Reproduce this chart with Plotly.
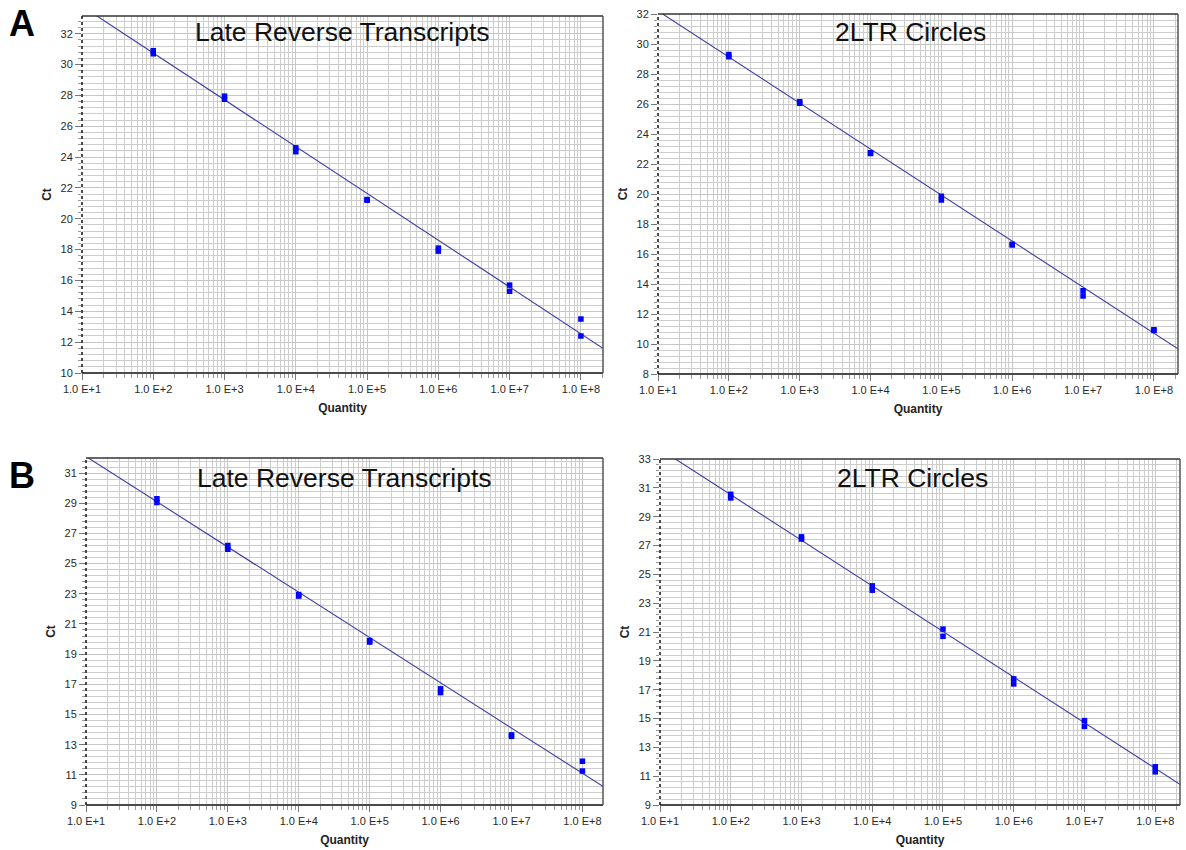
import plotly.graph_objects as go

# ---------------- data ----------------
quantity = [1e2, 1e3, 1e4, 1e5, 1e6, 1e7, 1e8]

a_lrt_ct_rep1 = [30.9, 27.95, 24.6, 21.25, 18.1, 15.7, 13.5]
a_lrt_ct_rep2 = [30.7, 27.75, 24.35, 21.2, 17.9, 15.3, 12.4]

a_2ltr_ct_rep1 = [29.3, 26.15, 22.75, 19.85, 16.65, 13.55, 10.95]
a_2ltr_ct_rep2 = [29.15, 26.05, 22.7, 19.6, 16.6, 13.2, 10.9]

b_lrt_ct_rep1 = [29.3, 26.2, 22.95, 19.9, 16.7, 13.65, 11.9]
b_lrt_ct_rep2 = [29.05, 25.95, 22.85, 19.8, 16.45, 13.55, 11.25]

b_2ltr_ct_rep1 = [30.55, 27.6, 24.2, 21.2, 17.75, 14.85, 11.65]
b_2ltr_ct_rep2 = [30.3, 27.45, 23.9, 20.7, 17.4, 14.45, 11.3]

# standard-curve fits: Ct = intercept + slope * log10(quantity)
fit_intercepts = [36.82, 35.27, 35.10, 36.85]
fit_slopes = [-3.035, -3.069, -3.000, -3.164]

panel_titles = ["Late Reverse Transcripts", "2LTR Circles",
                "Late Reverse Transcripts", "2LTR Circles"]
panel_letters = ["A", "B"]
decade_exponents = [1, 2, 3, 4, 5, 6, 7, 8]
decade_labels = ["1.0 E+%d" % e for e in decade_exponents]

# ---------------- layout geometry ----------------
W, H = 1186, 850
panels = [
    dict(rep1=a_lrt_ct_rep1, rep2=a_lrt_ct_rep2, box=(82, 603, 16, 373),
         xr=(1, 8.31), yr=(10, 33.15), y0=10),
    dict(rep1=a_2ltr_ct_rep1, rep2=a_2ltr_ct_rep2, box=(658, 1178, 14, 374),
         xr=(1, 8.34), yr=(8, 32), y0=8),
    dict(rep1=b_lrt_ct_rep1, rep2=b_lrt_ct_rep2, box=(86, 603, 458, 805),
         xr=(1, 8.29), yr=(9, 32.0), y0=9),
    dict(rep1=b_2ltr_ct_rep1, rep2=b_2ltr_ct_rep2, box=(660, 1180, 459, 805),
         xr=(1, 8.35), yr=(9, 33), y0=9),
]

FONT = "Liberation Sans, Arial, sans-serif"
fig = go.Figure()
layout = dict(width=W, height=H, margin=dict(l=0, r=0, t=0, b=0),
              paper_bgcolor="white", plot_bgcolor="white", showlegend=False,
              annotations=[], shapes=[])

minor_x = [m * 10 ** e for e in decade_exponents for m in range(2, 10)]

for i, p in enumerate(panels):
    n = "" if i == 0 else str(i + 1)
    xa, ya = "x" + n, "y" + n
    l, r, t, b = p["box"]
    dx = [l / W, r / W]
    dy = [1 - b / H, 1 - t / H]

    # fitted standard curve
    line_x = [10 ** 0.5, 10 ** 8.6]
    line_y = [fit_intercepts[i] + fit_slopes[i] * 0.5,
              fit_intercepts[i] + fit_slopes[i] * 8.6]
    fig.add_trace(go.Scatter(x=line_x, y=line_y, mode="lines",
                             line=dict(color="#3a3aa8", width=1.1),
                             xaxis=xa, yaxis=ya, hoverinfo="skip"))
    for rep in (p["rep1"], p["rep2"]):
        fig.add_trace(go.Scatter(x=quantity, y=rep, mode="markers",
                                 marker=dict(symbol="square", size=5.5, color="#0000ff",
                                             line=dict(width=0)),
                                 xaxis=xa, yaxis=ya))

    xkey = "xaxis" + n
    ykey = "yaxis" + n
    layout[xkey] = dict(
        type="log", domain=dx, range=list(p["xr"]), anchor=ya,
        tickmode="array", tickvals=[10 ** e for e in decade_exponents],
        ticktext=decade_labels, ticks="outside", ticklen=6, tickwidth=1,
        tickcolor="#777", showgrid=True, gridcolor="#c6c6c6", gridwidth=1,
        minor=dict(tickmode="array", tickvals=minor_x, ticks="outside", ticklen=4,
                   tickcolor="#999", showgrid=True, gridcolor="#cdcdcd", gridwidth=1),
        showline=False, zeroline=False,
        tickfont=dict(family=FONT, size=11, color="#2a2a2a"),
        title=dict(text="<b>Quantity</b>", standoff=9,
                   font=dict(family=FONT, size=12, color="#222")),
        automargin=False, fixedrange=True,
    )
    layout[ykey] = dict(
        domain=dy, range=list(p["yr"]), anchor=xa,
        tickmode="linear", tick0=p["y0"], dtick=2,
        ticks="outside", ticklen=6, tickwidth=1, tickcolor="#777",
        showgrid=True, gridcolor="#c6c6c6", gridwidth=1,
        minor=dict(tickmode="linear", tick0=p["y0"], dtick=0.4, ticks="outside",
                   ticklen=3, tickcolor="#999", showgrid=True,
                   gridcolor="#cdcdcd", gridwidth=1),
        showline=False, zeroline=False,
        tickfont=dict(family=FONT, size=11, color="#2a2a2a"),
        title=dict(text="<b>Ct</b>", standoff=6,
                   font=dict(family=FONT, size=12, color="#222")),
        automargin=False, fixedrange=True,
    )

    xd = xa + " domain"
    yd = ya + " domain"
    # frame
    layout["shapes"] += [
        dict(type="line", xref=xd, yref=yd, x0=0, x1=1, y0=1, y1=1,
             line=dict(color="#333", width=1.5)),
        dict(type="line", xref=xd, yref=yd, x0=1, x1=1, y0=0, y1=1,
             line=dict(color="#555", width=1.5)),
        dict(type="line", xref=xd, yref=yd, x0=0, x1=1, y0=0, y1=0,
             line=dict(color="#4a4a4a", width=2.2)),
        dict(type="line", xref=xd, yref=yd, x0=0, x1=0, y0=0, y1=1,
             line=dict(color="#111", width=1.5, dash="dot")),
    ]
    # panel title
    layout["annotations"].append(dict(
        text=panel_titles[i], xref=xd, yref="paper",
        x=0.5 if i % 2 == 0 else 0.485, y=1 - (32 if i < 2 else 478) / H,
        xanchor="center", yanchor="middle", showarrow=False,
        font=dict(family=FONT, size=26.5, color="#111")))

for k, letter in enumerate(panel_letters):
    layout["annotations"].append(dict(
        text="<b>%s</b>" % letter, xref="paper", yref="paper",
        x=22 / W, y=1 - (23 if k == 0 else 475) / H,
        xanchor="center", yanchor="middle", showarrow=False,
        font=dict(family=FONT, size=36, color="#000")))

fig.update_layout(**layout)
fig.write_html("out.html",
               config={"displayModeBar": False},
               post_script="document.body.style.margin='0';document.body.style.overflow='hidden';")
